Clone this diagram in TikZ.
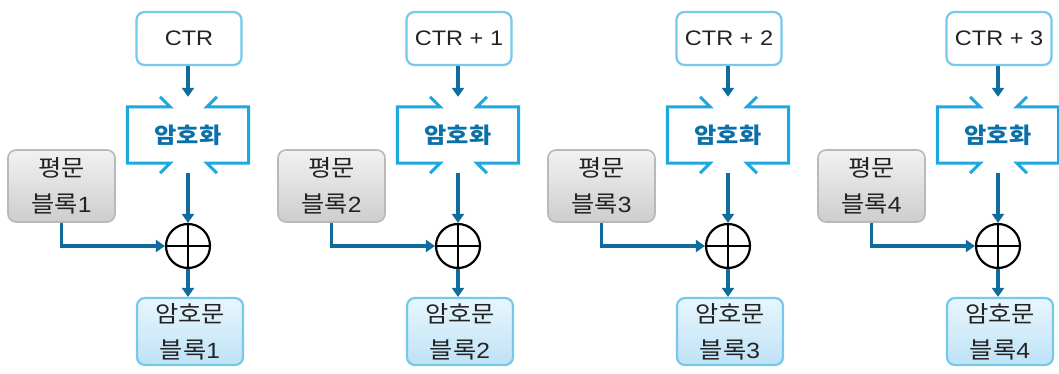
\documentclass[tikz,border=0pt]{standalone}
\usepackage{fontspec}
\setmainfont[FakeStretch=1.12]{Liberation Sans}
\newfontfamily\kr[FakeStretch=1.1]{Noto Sans CJK KR}
\usetikzlibrary{arrows.meta,calc}
\definecolor{arrowc}{RGB}{16,108,156}
\definecolor{encc}{RGB}{30,168,224}
\definecolor{enctext}{RGB}{12,112,168}
\definecolor{ctrc}{RGB}{118,200,236}
\definecolor{ptdraw}{RGB}{185,185,185}
\definecolor{pttop}{RGB}{242,242,242}
\definecolor{ptbot}{RGB}{205,205,205}
\definecolor{cttop}{RGB}{232,246,253}
\definecolor{ctbot}{RGB}{190,226,246}
\definecolor{txt}{RGB}{35,35,35}
\tikzset{
  ctrbox/.style={draw=ctrc, line width=2.2pt, rounded corners=8pt, fill=white,
    minimum width=105pt, minimum height=53pt, inner sep=0pt, text=txt,
    font=\fontsize{21}{25}\selectfont},
  ptbox/.style={draw=ptdraw, line width=1.6pt, rounded corners=8pt,
    top color=pttop, bottom color=ptbot,
    minimum width=107pt, minimum height=72pt, inner sep=0pt, align=center, text=txt,
    font=\fontsize{22}{36}\selectfont},
  ctbox/.style={draw=ctrc, line width=2.2pt, rounded corners=8pt,
    top color=cttop, bottom color=ctbot,
    minimum width=106pt, minimum height=67pt, inner sep=0pt, align=center, text=txt,
    font=\fontsize{22}{36}\selectfont},
  encnode/.style={minimum width=121pt, minimum height=76pt, inner sep=0pt,
    text=enctext, font=\kr\bfseries\fontsize{22}{25}\selectfont},
  encline/.style={draw=encc, line width=3pt, line join=miter},
  xorc/.style={circle, draw=black, line width=2.2pt, minimum size=44pt, inner sep=0pt},
  flow/.style={draw=arrowc, line width=3.4pt, -{Triangle[length=9pt,width=12pt]}},
}
\begin{document}
\begin{tikzpicture}[x=1pt,y=-1pt]
\useasboundingbox (0,0) rectangle (1059,374);
\clip (0,0) rectangle (1059,374);
\fill[white] (0,0) rectangle (1059,374);
\foreach \i/\lab in {1/CTR, 2/CTR + 1, 3/CTR + 2, 4/CTR + 3}{
  \pgfmathsetmacro{\dx}{270*(\i-1)}
  \begin{scope}[shift={(\dx,0)}]
    \node[ctrbox] (ctr\i) at (189,38.5) {\lab};
    \node[encnode] (enc\i) at (188,135) {암호화};
    \node[xorc] (xor\i) at (188,246) {};
    \node[ptbox] (pt\i) at (61.5,186) {{\kr\fontsize{23}{36}\selectfont 평문}\\{\kr\fontsize{23}{36}\selectfont 블록}\i};
    \node[ctbox] (ct\i) at (190,331.5) {{\kr\fontsize{23}{36}\selectfont 암호문}\\{\kr\fontsize{23}{36}\selectfont 블록}\i};
    \draw[line width=2.2pt] (xor\i.north) -- (xor\i.south);
    \draw[line width=2.2pt] (xor\i.west) -- (xor\i.east);
    \draw[encline] ($(enc\i.north)+(-28,0)$) -- ($(enc\i.north)+(-18,10)$)
      -- ($(enc\i.north west)+(0,10)$) -- ($(enc\i.south west)+(0,-10)$)
      -- ($(enc\i.south)+(-18,-10)$) -- ($(enc\i.south)+(-28,0)$);
    \draw[encline] ($(enc\i.north)+(29,0)$) -- ($(enc\i.north)+(19,10)$)
      -- ($(enc\i.north east)+(0,10)$) -- ($(enc\i.south east)+(0,-10)$)
      -- ($(enc\i.south)+(19,-10)$) -- ($(enc\i.south)+(29,0)$);
    \draw[flow] (ctr\i.south -| enc\i.north) -- (enc\i.north);
    \draw[flow] (enc\i.south) -- (xor\i.north);
    \draw[flow] (xor\i.south) -- (xor\i.south |- ct\i.north);
    \draw[flow] (pt\i.south) |- (xor\i.west);
  \end{scope}
}
\end{tikzpicture}
\end{document}
